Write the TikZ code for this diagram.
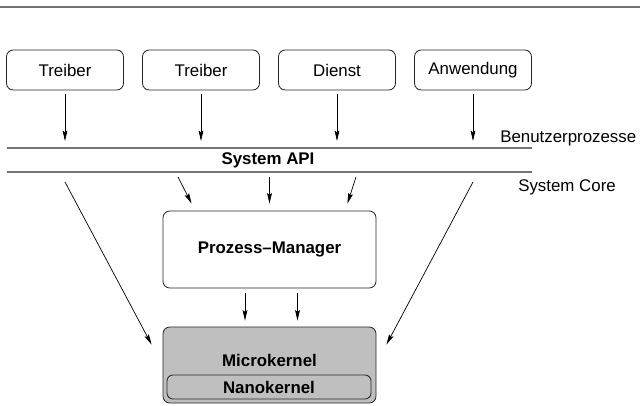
\documentclass[tikz,border=0pt]{standalone}
\usepackage{fontspec}
\setmainfont{Liberation Sans}
\usetikzlibrary{arrows.meta}

\tikzset{
  every node/.style={font=\fontsize{12}{14}\selectfont},
  proc/.style={draw=black!85, line width=0.6pt, rounded corners=0.17cm,
    minimum width=2.925cm, minimum height=1cm},
  kern/.style={proc, fill=black!25},
  layer/.style={draw=black!55, line width=1pt},
  arr/.style={-{Stealth[length=2.6mm,width=1.2mm,inset=0.4mm]}, line width=0.5pt},
}

\begin{document}
\begin{tikzpicture}
  \useasboundingbox (0,0) rectangle (16,10.125);

  % Top rule
  \draw[layer] (0,9.95) -- (16,9.95);

  % Layer boundaries
  \coordinate (user) at (0,6.425);
  \coordinate (core) at (0,5.825);
  \coordinate (below) at (0,5.575);
  \draw[layer] (0.175,6.425) -- (13.3,6.425);
  \draw[layer] (0.175,5.825) -- (13.3,5.825);
  \node (api) at (6.7,6.125) {\textbf{System API}};
  \node[anchor=west, inner sep=0pt] (bp) at (12.5,6.675) {Benutzerprozesse};
  \node[anchor=west, inner sep=0pt] (sc) at (12.95,5.45) {System Core};

  % User processes
  \foreach \name/\txt/\x in {tr1/Treiber/1.625, tr2/Treiber/5.025, dienst/Dienst/8.425, anw/Anwendung/11.825}
  {
    \node[proc] (\name) at (\x,8.375) {\txt};
    \draw[arr, shorten <=0.1cm, shorten >=0.175cm] (\name) -- (\name |- user);
  }

  % Prozess-Manager and kernel
  \node[proc, minimum width=5.325cm, minimum height=1.925cm] (pm) at (6.7375,3.8875) {\textbf{Prozess\textendash Manager}};
  \node[kern, minimum width=5.325cm, minimum height=1.9cm] (mk) at (6.7375,1.0) {};
  \node (mktext) at (6.7375,1.125) {\textbf{Microkernel}};
  \node[kern, minimum width=5.1cm, minimum height=0.6cm, rounded corners=0.15cm] (nk) at (6.725,0.45) {\textbf{Nanokernel}};

  % Calls through the API
  \coordinate (s1) at (4.45,5.7);
  \coordinate (s2) at (6.7375,5.7);
  \coordinate (s3) at (8.9,5.7);
  \draw[arr] (s1) -- ([xshift=0.725cm,yshift=0.175cm]pm.north west);
  \draw[arr] (s2) -- ([yshift=0.175cm]pm.north);
  \draw[arr] (s3) -- ([xshift=-0.725cm,yshift=0.175cm]pm.north east);

  % Direct calls to the kernel
  \draw[arr] (tr1 |- below) -- ([xshift=-0.275cm,yshift=-0.45cm]mk.north west);
  \draw[arr] (anw |- below) -- ([xshift=0.25cm,yshift=-0.45cm]mk.north east);

  % Prozess-Manager to kernel
  \draw[arr, shorten <=0.125cm, shorten >=0.15cm] ([xshift=-0.6125cm]pm.south) -- ([xshift=-0.6125cm]mk.north);
  \draw[arr, shorten <=0.125cm, shorten >=0.15cm] ([xshift=0.7cm]pm.south) -- ([xshift=0.7cm]mk.north);
\end{tikzpicture}
\end{document}
